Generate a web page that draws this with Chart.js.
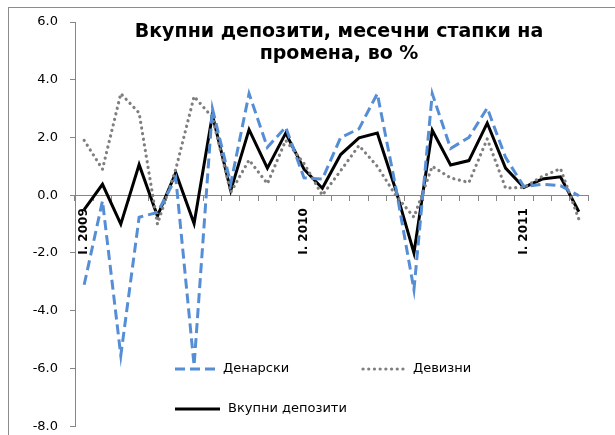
<!DOCTYPE html>
<html>
<head>
<meta charset="utf-8">
<script src="https://cdn.jsdelivr.net/npm/chart.js@4"></script>
<style>
  html, body { margin: 0; padding: 0; background: #fff; overflow: hidden; }
  #wrap { width: 615px; height: 446px; position: relative; }
</style>
</head>
<body>
<div id="wrap"><canvas id="depChart"></canvas></div>
<script>
// месеци јан 2009 - апр 2011
const months = [
  'I. 2009', 'II. 2009', 'III. 2009', 'IV. 2009', 'V. 2009', 'VI. 2009',
  'VII. 2009', 'VIII. 2009', 'IX. 2009', 'X. 2009', 'XI. 2009', 'XII. 2009',
  'I. 2010', 'II. 2010', 'III. 2010', 'IV. 2010', 'V. 2010', 'VI. 2010',
  'VII. 2010', 'VIII. 2010', 'IX. 2010', 'X. 2010', 'XI. 2010', 'XII. 2010',
  'I. 2011', 'II. 2011', 'III. 2011', 'IV. 2011'
];
const denarski = [-3.1, -0.2, -5.55, -0.76, -0.6, 0.6, -5.9, 3.0, 0.4, 3.52, 1.66, 2.36,
  0.6, 0.56, 2.0, 2.3, 3.52, 0.3, -3.27, 3.52, 1.62, 2.0, 3.02, 1.31, 0.3, 0.38, 0.33, -0.02];
const devizni = [1.9, 0.9, 3.52, 2.85, -1.0, 0.9, 3.42, 2.7, 0.1, 1.22, 0.4, 1.9,
  1.1, 0.0, 0.85, 1.72, 1.0, 0.0, -0.76, 1.0, 0.6, 0.44, 1.95, 0.25, 0.27, 0.65, 0.92, -0.83];
const vkupni = [-0.5, 0.38, -1.0, 1.06, -0.72, 0.78, -0.98, 2.78, 0.16, 2.27, 0.94, 2.15,
  0.9, 0.24, 1.41, 1.99, 2.15, 0.2, -2.0, 2.25, 1.05, 1.2, 2.5, 0.94, 0.27, 0.56, 0.64, -0.57];
const yTicks = { min: -8, max: 6, step: 2 };
const titleLines = ['Вкупни депозити, месечни стапки на', 'промена, во %'];

const FONT = "'DejaVu Sans', Verdana, sans-serif";

// наслов, рамка и легенда се цртаат рачно (преклопуваат со површината)
const overlay = {
  id: 'overlay',
  beforeDraw(chart) {
    const ctx = chart.ctx;
    ctx.save();
    ctx.strokeStyle = '#8c8c8c';
    ctx.lineWidth = 1;
    ctx.strokeRect(8.5, 7.5, 800, 600);
    ctx.restore();
  },
  afterDraw(chart) {
    const ctx = chart.ctx;
    ctx.save();
    ctx.fillStyle = '#000';
    ctx.font = 'bold 19px ' + FONT;
    ctx.textAlign = 'center';
    ctx.textBaseline = 'alphabetic';
    ctx.fillText(titleLines[0], 339, 37);
    ctx.fillText(titleLines[1], 339, 59);

    // легенда
    const spots = [
      { x: 175, y: 369, len: 40 },
      { x: 363, y: 369, len: 42 },
      { x: 175, y: 409, len: 45 }
    ];
    ctx.font = '13px ' + FONT;
    ctx.textAlign = 'left';
    ctx.textBaseline = 'middle';
    chart.data.datasets.forEach((ds, i) => {
      const s = spots[i];
      ctx.beginPath();
      ctx.strokeStyle = ds.borderColor;
      ctx.lineWidth = ds.borderWidth;
      ctx.lineCap = ds.borderCapStyle || 'butt';
      ctx.setLineDash(ds.borderDash || []);
      ctx.moveTo(s.x, s.y);
      ctx.lineTo(s.x + s.len, s.y);
      ctx.stroke();
      ctx.setLineDash([]);
      ctx.fillStyle = '#000';
      ctx.fillText(ds.label, s.x + s.len + 8, s.y);
    });
    ctx.restore();
  }
};

document.addEventListener('DOMContentLoaded', function() {
  const ctx = document.getElementById('depChart').getContext('2d');
  new Chart(ctx, {
    type: 'line',
    data: {
      labels: months,
      datasets: [
        {
          label: 'Денарски',
          data: denarski,
          borderColor: '#558ed5',
          borderWidth: 3,
          borderDash: [10, 5],
          pointRadius: 0,
          tension: 0
        },
        {
          label: 'Девизни',
          data: devizni,
          borderColor: '#7f7f7f',
          borderWidth: 3.2,
          borderDash: [0.1, 5.6],
          borderCapStyle: 'round',
          pointRadius: 0,
          tension: 0
        },
        {
          label: 'Вкупни депозити',
          data: vkupni,
          borderColor: '#000000',
          borderWidth: 3,
          pointRadius: 0,
          tension: 0
        }
      ]
    },
    options: {
      responsive: true,
      maintainAspectRatio: false,
      animation: false,
      layout: { padding: { left: 0, right: 27, top: 22, bottom: 0 } },
      plugins: {
        legend: { display: false },
        title: { display: false },
        tooltip: { enabled: false }
      },
      scales: {
        x: {
          type: 'category',
          position: { y: 0 },
          offset: true,
          grid: {
            offset: true,
            drawOnChartArea: false,
            drawTicks: true,
            tickLength: 5,
            color: '#868686'
          },
          border: { color: '#868686', width: 1 },
          ticks: {
            autoSkip: false,
            minRotation: 90,
            maxRotation: 90,
            padding: 8,
            color: '#000',
            font: { family: FONT, size: 12, weight: 'bold' },
            callback: function(v) {
              const lab = this.getLabelForValue(v);
              return lab.startsWith('I. ') ? lab : '';
            }
          }
        },
        y: {
          position: 'left',
          min: yTicks.min,
          max: yTicks.max,
          afterFit: function(scale) { scale.width = 75; },
          grid: {
            drawOnChartArea: false,
            drawTicks: true,
            tickLength: 5,
            color: '#868686'
          },
          border: { color: '#868686', width: 1 },
          ticks: {
            stepSize: yTicks.step,
            padding: 12,
            color: '#000',
            font: { family: FONT, size: 13 },
            callback: v => v.toFixed(1)
          }
        }
      }
    },
    plugins: [overlay]
  });
});
</script>
</body>
</html>
